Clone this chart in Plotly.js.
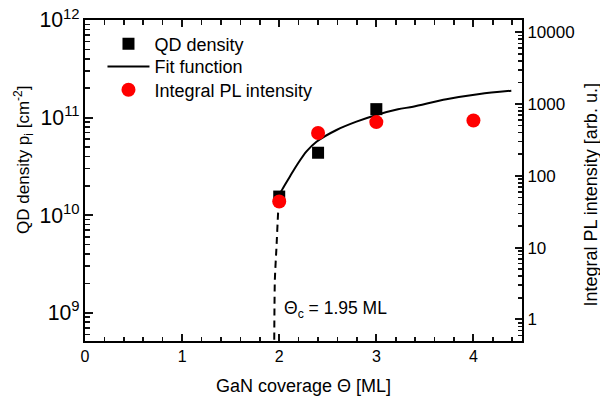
<!DOCTYPE html>
<html>
<head>
<meta charset="utf-8">
<script src="https://cdn.plot.ly/plotly-3.0.1.min.js"></script>
<style>
  html, body { margin: 0; padding: 0; background: #fff; }
  #chart { width: 600px; height: 396px; }
</style>
</head>
<body>
<div id="chart"></div>
<script>
// QD density (left axis, cm^-2)
var qdTheta = [2.0, 2.4, 3.0];
var qdDensity = [1.55e10, 4.36e10, 1.22e11];

// Integral PL intensity (right axis, arb. u.)
var plTheta = [2.0, 2.4, 3.0, 4.0];
var plIntensity = [44, 394, 560, 589];

// Fit function (solid part)
var fitTheta = [1.999, 2.05, 2.109, 2.194, 2.281, 2.384, 2.590, 2.795, 3.001, 3.223, 3.378, 3.721, 4.064, 4.390];
var fitDensity = [1.61e10, 1.98e10, 2.48e10, 3.40e10, 4.50e10, 5.66e10, 7.46e10, 9.08e10, 1.064e11, 1.216e11, 1.294e11, 1.542e11, 1.746e11, 1.888e11];

// Fit function extrapolation (dashed part) towards Theta_c
var extTheta = [1.948, 1.955, 1.972, 1.989, 1.999];
var extDensity = [3.98e8, 2.17e9, 4.75e9, 1.087e10, 1.61e10];

var font = "'Liberation Sans', Arial, sans-serif";

var traces = [
  {
    x: qdTheta, y: qdDensity, name: 'QD density', type: 'scatter', mode: 'markers',
    marker: { symbol: 'square', size: 12, color: '#000' }, yaxis: 'y', legend: 'legend'
  },
  {
    x: fitTheta, y: fitDensity, name: 'Fit function', type: 'scatter', mode: 'lines',
    line: { color: '#000', width: 2, shape: 'spline', smoothing: 0.8 }, yaxis: 'y', legend: 'legend2'
  },
  {
    x: extTheta, y: extDensity, name: 'extrapolation', type: 'scatter', mode: 'lines',
    line: { color: '#000', width: 2, dash: '7px,5px', shape: 'spline', smoothing: 0.6 },
    yaxis: 'y', showlegend: false
  },
  {
    x: plTheta, y: plIntensity, name: 'Integral PL intensity', type: 'scatter', mode: 'markers',
    marker: { symbol: 'circle', size: 14, color: '#ff0000' }, yaxis: 'y2', legend: 'legend3'
  }
];

function legendAt(yc) {
  return {
    x: 0.04, y: yc, xanchor: 'left', yanchor: 'middle',
    bgcolor: 'rgba(0,0,0,0)', font: { size: 18, family: font, color: '#000' },
    itemwidth: 42
  };
}

var tickCommon = { tickcolor: '#111', tickwidth: 2, showline: true, linewidth: 2, linecolor: '#000', showgrid: false, zeroline: false, layer: 'above traces' };
var minorCommon = { ticks: 'inside', tickwidth: 1.6, tickcolor: '#111', showgrid: false };

var layout = {
  width: 600, height: 396,
  margin: { l: 85, r: 78, t: 20, b: 55 },
  paper_bgcolor: '#fff', plot_bgcolor: '#fff',
  font: { family: font, color: '#000', size: 17 },
  showlegend: true,
  legend: legendAt(0.925),
  legend2: legendAt(0.8545),
  legend3: legendAt(0.782),
  xaxis: Object.assign({
    range: [0, 4.5], tick0: 0, dtick: 1, ticks: 'inside', ticklen: 7, mirror: 'ticks',
    tickfont: { size: 16 },
    minor: Object.assign({ tick0: 0, dtick: 0.2, ticklen: 4.5 }, minorCommon)
  }, tickCommon),
  yaxis: Object.assign({
    type: 'log', range: [8.71, 12], dtick: 1, exponentformat: 'power',
    ticks: 'inside', ticklen: 8, tickfont: { size: 17 },
    minor: Object.assign({ dtick: 'D1', ticklen: 5 }, minorCommon)
  }, tickCommon),
  yaxis2: Object.assign({
    type: 'log', range: [-0.30, 4.17], dtick: 1, tickformat: 'd',
    overlaying: 'y', side: 'right',
    ticks: 'inside', ticklen: 7, tickfont: { size: 17 },
    minor: Object.assign({ dtick: 'D1', ticklen: 4.5 }, minorCommon)
  }, tickCommon),
  annotations: [
    {
      text: 'GaN coverage Θ [ML]', xref: 'paper', yref: 'paper', x: 0.5, y: -0.14,
      xanchor: 'center', yanchor: 'middle', showarrow: false, font: { size: 18 }
    },
    {
      text: 'QD density p<sub>i</sub> [cm<sup>-2</sup>]', xref: 'paper', yref: 'paper',
      x: -0.1396, y: 0.564, xanchor: 'center', yanchor: 'middle', textangle: -90,
      showarrow: false, font: { size: 17 }
    },
    {
      text: 'Integral PL intensity [arb. u.]', xref: 'paper', yref: 'paper',
      x: 1.157, y: 0.455, xanchor: 'center', yanchor: 'middle', textangle: -90,
      showarrow: false, font: { size: 18 }
    },
    {
      text: 'Θ<sub>c</sub> = 1.95 ML', xref: 'x', yref: 'y', x: 2.03, y: 9.03,
      xanchor: 'left', yanchor: 'middle', showarrow: false, font: { size: 17.5 }
    }
  ]
};

Plotly.newPlot('chart', traces, layout, { displayModeBar: false, staticPlot: true });
</script>
</body>
</html>
